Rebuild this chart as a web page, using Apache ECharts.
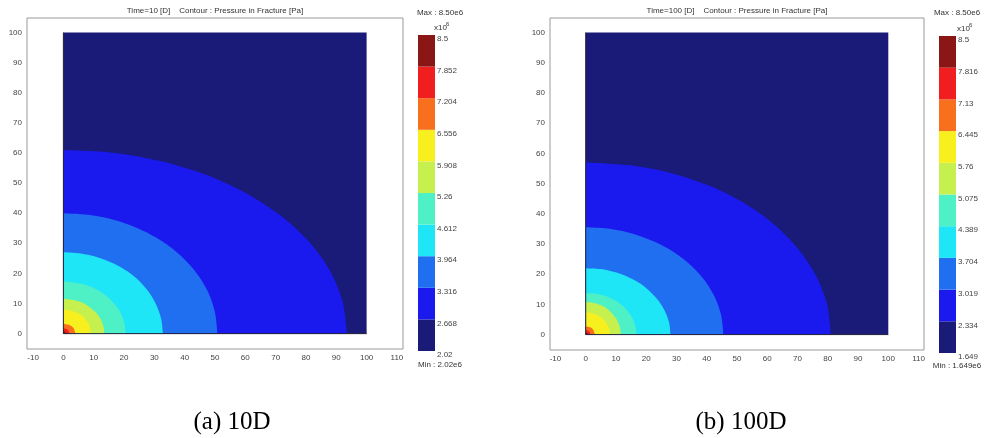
<!DOCTYPE html>
<html><head><meta charset="utf-8">
<script src="https://cdn.jsdelivr.net/npm/echarts@6/dist/echarts.min.js"></script>
<style>html,body{margin:0;padding:0;background:#fff}#c{width:988px;height:438px}</style>
</head><body><div id="c"></div>
<script>
// ---- data ----
const xTicks = [-10, 0, 10, 20, 30, 40, 50, 60, 70, 80, 90, 100, 110];
const yTicks = [0, 10, 20, 30, 40, 50, 60, 70, 80, 90, 100];
const bandColors = ['#1a1a78', '#1a1aee', '#1f6ff0', '#1fe6f6', '#4ef0c6', '#c6f04e', '#f8f01e', '#f8701e', '#f01e1e', '#8a1616'];
const cbLabels10D = ['2.02', '2.668', '3.316', '3.964', '4.612', '5.26', '5.908', '6.556', '7.204', '7.852', '8.5'];
const cbLabels100D = ['1.649', '2.334', '3.019', '3.704', '4.389', '5.075', '5.76', '6.445', '7.13', '7.816', '8.5'];
const domainTop = [[0, 100], [100, 100]];
const domainEdge = [[0, 100], [0, 0], [100, 0]];

// contour boundaries (outer -> inner), Time = 10 D
const c10_1 = [[0, 61], [16.3, 60.1], [32.0, 57.3], [46.8, 52.8], [60.1, 46.7], [71.6, 39.2], [81.0, 30.5], [87.9, 20.9], [92.1, 10.6], [93.5, 0]];
const c10_2 = [[0, 40], [8.8, 39.4], [17.4, 37.6], [25.4, 34.6], [32.7, 30.6], [38.9, 25.7], [44.0, 20], [47.8, 13.7], [50.0, 7.0], [50.8, 0]];
const c10_3 = [[0, 27], [5.7, 26.6], [11.2, 25.4], [16.4, 23.4], [21.1, 20.7], [25.1, 17.4], [28.4, 13.5], [30.8, 9.2], [32.3, 4.7], [32.8, 0]];
const c10_4 = [[0, 17.3], [3.6, 17.0], [7.0, 16.3], [10.3, 15.0], [13.2, 13.3], [15.7, 11.1], [17.8, 8.7], [19.3, 5.9], [20.2, 3.0], [20.5, 0]];
const c10_5 = [[0, 11.5], [2.3, 11.3], [4.6, 10.8], [6.8, 10.0], [8.7, 8.8], [10.3, 7.4], [11.7, 5.8], [12.7, 3.9], [13.3, 2.0], [13.5, 0]];
const c10_6 = [[0, 8], [2.3, 7.7], [4.5, 6.9], [6.4, 5.7], [7.8, 4.0], [8.7, 2.1], [9, 0]];
const c10_7 = [[0, 3.3], [2.0, 2.86], [2.83, 2.33], [3.46, 1.65], [4, 0]];
const c10_8 = [[0, 1.8], [1.0, 1.56], [1.41, 1.27], [1.73, 0.9], [2, 0]];
const c10_9 = [[0, 0.8], [0.64, 0.57], [0.9, 0]];

// contour boundaries (outer -> inner), Time = 100 D
const c100_1 = [[0, 57], [14.1, 56.1], [27.7, 53.6], [40.5, 49.4], [52.1, 43.7], [62.0, 36.7], [70.1, 28.5], [76.1, 19.5], [79.8, 9.9], [81, 0]];
const c100_2 = [[0, 35.5], [7.9, 35.0], [15.6, 33.4], [22.8, 30.7], [29.3, 27.2], [34.9, 22.8], [39.4, 17.8], [42.8, 12.1], [44.8, 6.2], [45.5, 0]];
const c100_3 = [[0, 22], [4.9, 21.7], [9.6, 20.7], [14, 19.1], [18.0, 16.9], [21.4, 14.1], [24.2, 11], [26.3, 7.5], [27.6, 3.8], [28, 0]];
const c100_4 = [[0, 13.8], [2.9, 13.6], [5.7, 13.0], [8.4, 12.0], [10.8, 10.6], [12.9, 8.9], [14.5, 6.9], [15.8, 4.7], [16.5, 2.4], [16.8, 0]];
const c100_5 = [[0, 10.8], [3.0, 10.4], [5.8, 9.4], [8.2, 7.6], [10.0, 5.4], [11.2, 2.8], [11.6, 0]];
const c100_6 = [[0, 7.3], [2.1, 7.1], [4, 6.3], [5.7, 5.2], [6.9, 3.65], [7.7, 1.9], [8, 0]];
const c100_7 = [[0, 2.8], [1.5, 2.42], [2.12, 1.98], [2.6, 1.4], [3, 0]];
const c100_8 = [[0, 1.5], [0.8, 1.3], [1.13, 1.06], [1.39, 0.75], [1.6, 0]];
const c100_9 = [[0, 0.7], [0.57, 0.5], [0.8, 0]];

const contours10D = [c10_1, c10_2, c10_3, c10_4, c10_5, c10_6, c10_7, c10_8, c10_9];
const contours100D = [c100_1, c100_2, c100_3, c100_4, c100_5, c100_6, c100_7, c100_8, c100_9];

// ---- chart ----
const FONT = 'Liberation Sans';
const lblColor = '#444';

function plotAxes(idx, min, max, ticks) {
  return {
    type: 'value', gridIndex: idx, min: min, max: max,
    axisLine: { show: false }, axisTick: { show: false }, splitLine: { show: false },
    axisLabel: { customValues: ticks, color: lblColor, fontSize: 8, fontFamily: FONT, margin: 5 }
  };
}
function cbX(idx) {
  return { type: 'value', gridIndex: idx, min: 0, max: 1, show: false };
}
function cbY(idx, labels) {
  return {
    type: 'value', gridIndex: idx, min: 0, max: 10, interval: 1, position: 'right',
    axisLine: { show: false }, axisTick: { show: false }, splitLine: { show: false },
    axisLabel: {
      showMinLabel: true, showMaxLabel: true,
      formatter: v => labels[Math.round(v)],
      color: lblColor, fontSize: 8, fontFamily: FONT, margin: 2, verticalAlign: 'top'
    }
  };
}
function panelSeries(g, contours) {
  const s = [];
  s.push({ type: 'line', xAxisIndex: g, yAxisIndex: g, data: domainTop, symbol: 'none',
    lineStyle: { width: 0 }, areaStyle: { color: bandColors[0], opacity: 1 }, silent: true, animation: false });
  contours.forEach((c, k) => {
    s.push({ type: 'line', xAxisIndex: g, yAxisIndex: g, data: c, symbol: 'none', smooth: 0.3,
      lineStyle: { width: 0 }, areaStyle: { color: bandColors[k + 1], opacity: 1 }, silent: true, animation: false });
  });
  s.push({ type: 'line', xAxisIndex: g, yAxisIndex: g, data: domainEdge, symbol: 'none',
    lineStyle: { width: 1, color: '#22223a' }, silent: true, animation: false });
  return s;
}
function cbRender(params, api) {
  const i = api.value(1);
  const p0 = api.coord([0, i]);
  const p1 = api.coord([1, i + 1]);
  return { type: 'rect', shape: { x: p0[0], y: p1[1], width: p1[0] - p0[0], height: p0[1] - p1[1] },
    style: { fill: bandColors[i] } };
}
function cbSeries(g) {
  return { type: 'custom', xAxisIndex: g, yAxisIndex: g, renderItem: cbRender,
    data: bandColors.map((c, i) => [0.5, i]), silent: true, animation: false };
}
function txt(x, y, text, size, align, family, color) {
  return { type: 'text', x: x, y: y, silent: true,
    style: { text: text, fontSize: size, fontFamily: family || FONT, fill: color || '#333',
      align: align || 'center', verticalAlign: 'middle' } };
}

const chart = echarts.init(document.getElementById('c'), null, { renderer: 'canvas' });
chart.setOption({
  animation: false,
  backgroundColor: '#fff',
  grid: [
    { left: 27, top: 18, width: 376, height: 331, show: true, borderColor: '#999', borderWidth: 1, backgroundColor: '#fff' },
    { left: 550, top: 18, width: 374, height: 332, show: true, borderColor: '#999', borderWidth: 1, backgroundColor: '#fff' },
    { left: 418, top: 35, width: 17, height: 316 },
    { left: 939, top: 36, width: 17, height: 317 }
  ],
  xAxis: [plotAxes(0, -12, 112, xTicks), plotAxes(1, -11.8, 111.8, xTicks), cbX(2), cbX(3)],
  yAxis: [plotAxes(0, -5.1, 104.8, yTicks), plotAxes(1, -5.1, 104.8, yTicks), cbY(2, cbLabels10D), cbY(3, cbLabels100D)],
  series: [].concat(panelSeries(0, contours10D), panelSeries(1, contours100D), [cbSeries(2), cbSeries(3)]),
  graphic: [
    txt(215, 11, 'Time=10 [D]    Contour : Pressure in Fracture [Pa]', 8),
    txt(737, 11, 'Time=100 [D]    Contour : Pressure in Fracture [Pa]', 8),
    txt(440, 13, 'Max : 8.50e6', 8),
    txt(957, 13, 'Max : 8.50e6', 8),
    txt(434, 28, 'x10', 8, 'left'),
    txt(446, 24, '6', 6, 'left'),
    txt(957, 29, 'x10', 8, 'left'),
    txt(969, 25, '6', 6, 'left'),
    txt(440, 365, 'Min : 2.02e6', 8),
    txt(957, 366, 'Min : 1.649e6', 8),
    txt(232, 422, '(a) 10D', 25, 'center', 'Liberation Serif', '#000'),
    txt(741, 422, '(b) 100D', 25, 'center', 'Liberation Serif', '#000')
  ]
});
</script></body></html>
